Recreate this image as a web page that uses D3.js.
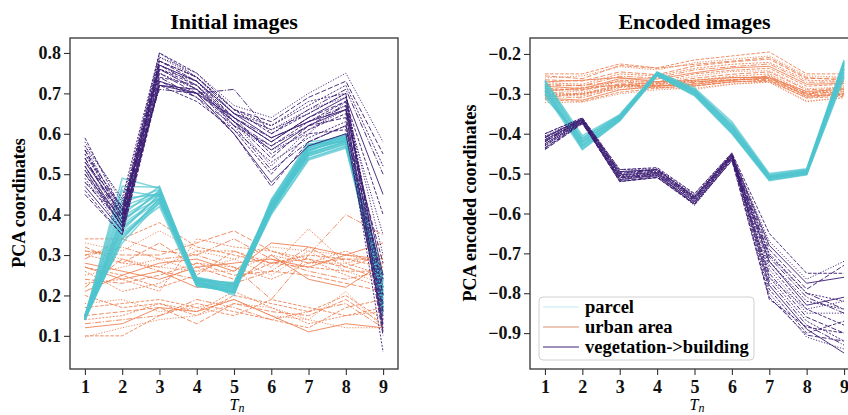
<!DOCTYPE html>
<html>
<head>
<meta charset="utf-8">
<script src="https://cdn.jsdelivr.net/npm/d3@7"></script>
<style>
  html, body { margin: 0; padding: 0; background: #fff; }
  svg { display: block; }
  .tick text { font-family: "Liberation Serif", "Times New Roman", serif; font-weight: bold; font-size: 18px; fill: #111; }
  .tick line { stroke: #333; stroke-width: 1.1; }
</style>
</head>
<body>
<svg id="chart" width="848" height="415"></svg>
<script>
// Time steps and tick values
const steps = [1, 2, 3, 4, 5, 6, 7, 8, 9];
const leftYTicks = [0.1, 0.2, 0.3, 0.4, 0.5, 0.6, 0.7, 0.8];
const rightYTicks = [-0.9, -0.8, -0.7, -0.6, -0.5, -0.4, -0.3, -0.2];
const classNames = ["parcel", "urban area", "vegetation->building"];

// Initial images: PCA coordinates per sample, T1..T9
const initialParcel = [
  [0.14, 0.34, 0.44, 0.23, 0.21, 0.41, 0.55, 0.58, 0.16],
  [0.145, 0.36, 0.45, 0.235, 0.215, 0.42, 0.56, 0.585, 0.18],
  [0.15, 0.38, 0.46, 0.24, 0.22, 0.425, 0.565, 0.59, 0.2],
  [0.14, 0.40, 0.47, 0.23, 0.205, 0.415, 0.57, 0.595, 0.22],
  [0.145, 0.42, 0.455, 0.225, 0.21, 0.405, 0.555, 0.6, 0.17],
  [0.15, 0.44, 0.45, 0.24, 0.23, 0.43, 0.575, 0.58, 0.19],
  [0.14, 0.46, 0.445, 0.232, 0.225, 0.41, 0.545, 0.575, 0.21],
  [0.145, 0.49, 0.465, 0.238, 0.2, 0.435, 0.58, 0.59, 0.15],
  [0.15, 0.33, 0.43, 0.228, 0.218, 0.42, 0.54, 0.57, 0.24],
  [0.14, 0.35, 0.42, 0.222, 0.212, 0.4, 0.535, 0.565, 0.2],
  [0.145, 0.37, 0.435, 0.245, 0.228, 0.418, 0.56, 0.588, 0.18],
  [0.15, 0.39, 0.44, 0.236, 0.232, 0.428, 0.552, 0.582, 0.23],
  [0.14, 0.41, 0.452, 0.226, 0.206, 0.412, 0.568, 0.592, 0.16],
  [0.145, 0.345, 0.438, 0.242, 0.224, 0.422, 0.548, 0.578, 0.25],
  [0.15, 0.365, 0.448, 0.23, 0.216, 0.408, 0.558, 0.586, 0.19],
  [0.14, 0.385, 0.458, 0.234, 0.21, 0.438, 0.572, 0.596, 0.21],
  [0.145, 0.43, 0.462, 0.238, 0.222, 0.426, 0.562, 0.584, 0.17],
  [0.15, 0.355, 0.428, 0.224, 0.208, 0.404, 0.538, 0.568, 0.22],
  [0.14, 0.375, 0.442, 0.244, 0.226, 0.416, 0.553, 0.58, 0.2],
  [0.145, 0.395, 0.45, 0.228, 0.214, 0.432, 0.566, 0.59, 0.18],
  [0.15, 0.47, 0.468, 0.24, 0.22, 0.419, 0.571, 0.598, 0.165],
  [0.14, 0.34, 0.433, 0.233, 0.219, 0.411, 0.546, 0.574, 0.235]
];
const initialUrban = [
  [0.34, 0.34, 0.38, 0.32, 0.30, 0.28, 0.30, 0.29, 0.27],
  [0.33, 0.31, 0.36, 0.31, 0.29, 0.32, 0.31, 0.30, 0.28],
  [0.31, 0.30, 0.30, 0.33, 0.36, 0.31, 0.28, 0.29, 0.29],
  [0.30, 0.28, 0.27, 0.31, 0.31, 0.27, 0.365, 0.28, 0.25],
  [0.29, 0.34, 0.31, 0.30, 0.27, 0.19, 0.30, 0.40, 0.35],
  [0.28, 0.26, 0.24, 0.27, 0.28, 0.29, 0.27, 0.30, 0.33],
  [0.27, 0.25, 0.22, 0.25, 0.31, 0.28, 0.27, 0.26, 0.26],
  [0.25, 0.27, 0.29, 0.26, 0.26, 0.30, 0.28, 0.28, 0.30],
  [0.24, 0.23, 0.25, 0.28, 0.25, 0.26, 0.25, 0.23, 0.21],
  [0.23, 0.24, 0.21, 0.34, 0.32, 0.31, 0.29, 0.25, 0.22],
  [0.22, 0.29, 0.26, 0.24, 0.23, 0.26, 0.32, 0.27, 0.24],
  [0.21, 0.25, 0.28, 0.29, 0.26, 0.33, 0.32, 0.30, 0.29],
  [0.20, 0.17, 0.18, 0.15, 0.20, 0.18, 0.16, 0.20, 0.14],
  [0.18, 0.19, 0.16, 0.17, 0.19, 0.15, 0.14, 0.21, 0.12],
  [0.15, 0.16, 0.17, 0.13, 0.18, 0.16, 0.15, 0.19, 0.13],
  [0.14, 0.15, 0.18, 0.16, 0.21, 0.17, 0.13, 0.15, 0.16],
  [0.13, 0.14, 0.15, 0.19, 0.17, 0.14, 0.16, 0.18, 0.12],
  [0.12, 0.13, 0.17, 0.16, 0.19, 0.15, 0.11, 0.13, 0.12],
  [0.10, 0.10, 0.15, 0.18, 0.16, 0.14, 0.12, 0.17, 0.19],
  [0.097, 0.12, 0.14, 0.15, 0.18, 0.17, 0.14, 0.12, 0.12],
  [0.32, 0.28, 0.33, 0.27, 0.24, 0.28, 0.29, 0.27, 0.30],
  [0.26, 0.21, 0.23, 0.28, 0.27, 0.24, 0.28, 0.31, 0.27],
  [0.30, 0.32, 0.29, 0.30, 0.34, 0.29, 0.26, 0.24, 0.26],
  [0.27, 0.24, 0.26, 0.22, 0.23, 0.30, 0.24, 0.22, 0.28],
  [0.17, 0.18, 0.19, 0.17, 0.15, 0.19, 0.17, 0.15, 0.17],
  [0.31, 0.29, 0.27, 0.26, 0.29, 0.25, 0.31, 0.26, 0.23]
];
const initialVegBuilding = [
  [0.59, 0.41, 0.80, 0.75, 0.66, 0.60, 0.65, 0.70, 0.12],
  [0.57, 0.40, 0.79, 0.74, 0.65, 0.61, 0.66, 0.69, 0.15],
  [0.56, 0.39, 0.78, 0.73, 0.64, 0.58, 0.64, 0.68, 0.20],
  [0.55, 0.42, 0.78, 0.74, 0.66, 0.62, 0.68, 0.70, 0.18],
  [0.54, 0.38, 0.77, 0.72, 0.63, 0.57, 0.62, 0.67, 0.22],
  [0.53, 0.40, 0.77, 0.73, 0.65, 0.59, 0.63, 0.66, 0.25],
  [0.52, 0.37, 0.76, 0.72, 0.64, 0.55, 0.61, 0.65, 0.14],
  [0.51, 0.41, 0.76, 0.71, 0.62, 0.56, 0.60, 0.68, 0.30],
  [0.50, 0.39, 0.75, 0.70, 0.63, 0.54, 0.62, 0.64, 0.10],
  [0.49, 0.36, 0.75, 0.71, 0.61, 0.53, 0.59, 0.63, 0.06],
  [0.48, 0.38, 0.74, 0.69, 0.62, 0.51, 0.58, 0.62, 0.16],
  [0.47, 0.36, 0.73, 0.70, 0.60, 0.48, 0.57, 0.60, 0.13],
  [0.46, 0.35, 0.72, 0.68, 0.61, 0.50, 0.60, 0.61, 0.24],
  [0.58, 0.43, 0.79, 0.75, 0.67, 0.64, 0.70, 0.75, 0.58],
  [0.56, 0.41, 0.78, 0.74, 0.66, 0.63, 0.69, 0.73, 0.55],
  [0.55, 0.40, 0.76, 0.73, 0.65, 0.62, 0.67, 0.72, 0.52],
  [0.53, 0.42, 0.71, 0.70, 0.71, 0.60, 0.66, 0.71, 0.50],
  [0.52, 0.38, 0.72, 0.70, 0.64, 0.58, 0.64, 0.69, 0.45],
  [0.50, 0.37, 0.74, 0.72, 0.62, 0.57, 0.63, 0.68, 0.40],
  [0.48, 0.40, 0.77, 0.73, 0.63, 0.52, 0.61, 0.66, 0.35],
  [0.45, 0.35, 0.73, 0.69, 0.60, 0.47, 0.58, 0.62, 0.28],
  [0.57, 0.44, 0.80, 0.74, 0.65, 0.61, 0.65, 0.70, 0.20],
  [0.54, 0.39, 0.76, 0.71, 0.64, 0.59, 0.63, 0.67, 0.17],
  [0.51, 0.37, 0.72, 0.71, 0.63, 0.56, 0.62, 0.66, 0.11]
];

// Encoded images: PCA encoded coordinates per sample, T1..T9
const encodedParcel = [
  [-0.265, -0.405, -0.352, -0.245, -0.285, -0.37, -0.50, -0.488, -0.215],
  [-0.27, -0.41, -0.355, -0.247, -0.29, -0.375, -0.503, -0.49, -0.22],
  [-0.275, -0.415, -0.357, -0.248, -0.292, -0.38, -0.505, -0.492, -0.225],
  [-0.28, -0.42, -0.36, -0.25, -0.295, -0.385, -0.508, -0.495, -0.23],
  [-0.285, -0.425, -0.362, -0.252, -0.298, -0.39, -0.51, -0.497, -0.235],
  [-0.29, -0.43, -0.364, -0.253, -0.3, -0.395, -0.512, -0.5, -0.24],
  [-0.295, -0.435, -0.366, -0.254, -0.302, -0.398, -0.515, -0.502, -0.25],
  [-0.30, -0.44, -0.368, -0.255, -0.305, -0.40, -0.518, -0.503, -0.26],
  [-0.31, -0.412, -0.354, -0.246, -0.288, -0.378, -0.506, -0.494, -0.218],
  [-0.278, -0.428, -0.363, -0.249, -0.296, -0.388, -0.511, -0.498, -0.228],
  [-0.268, -0.418, -0.359, -0.251, -0.293, -0.382, -0.507, -0.491, -0.222],
  [-0.292, -0.432, -0.361, -0.247, -0.299, -0.392, -0.513, -0.496, -0.238],
  [-0.302, -0.422, -0.356, -0.252, -0.29, -0.386, -0.509, -0.499, -0.245],
  [-0.283, -0.438, -0.367, -0.254, -0.303, -0.396, -0.516, -0.501, -0.255]
];
const encodedUrban = [
  [-0.25, -0.25, -0.225, -0.235, -0.215, -0.205, -0.195, -0.25, -0.25],
  [-0.26, -0.255, -0.232, -0.24, -0.222, -0.213, -0.205, -0.255, -0.258],
  [-0.265, -0.268, -0.245, -0.252, -0.23, -0.22, -0.213, -0.262, -0.26],
  [-0.272, -0.276, -0.25, -0.255, -0.236, -0.226, -0.221, -0.266, -0.268],
  [-0.276, -0.28, -0.256, -0.26, -0.24, -0.232, -0.225, -0.271, -0.27],
  [-0.281, -0.287, -0.262, -0.263, -0.247, -0.235, -0.231, -0.276, -0.274],
  [-0.286, -0.291, -0.266, -0.27, -0.25, -0.241, -0.236, -0.281, -0.276],
  [-0.29, -0.296, -0.268, -0.272, -0.256, -0.244, -0.242, -0.287, -0.283],
  [-0.296, -0.3, -0.276, -0.274, -0.261, -0.251, -0.245, -0.29, -0.286],
  [-0.301, -0.306, -0.281, -0.276, -0.266, -0.256, -0.25, -0.296, -0.292],
  [-0.306, -0.31, -0.284, -0.279, -0.271, -0.26, -0.256, -0.3, -0.295],
  [-0.311, -0.316, -0.29, -0.281, -0.276, -0.266, -0.26, -0.306, -0.3],
  [-0.315, -0.319, -0.296, -0.286, -0.28, -0.27, -0.266, -0.311, -0.306],
  [-0.322, -0.321, -0.3, -0.29, -0.286, -0.275, -0.27, -0.318, -0.31],
  [-0.29, -0.29, -0.275, -0.281, -0.274, -0.264, -0.264, -0.302, -0.299],
  [-0.299, -0.302, -0.281, -0.285, -0.279, -0.27, -0.266, -0.305, -0.304],
  [-0.28, -0.279, -0.27, -0.276, -0.27, -0.266, -0.261, -0.298, -0.295],
  [-0.27, -0.266, -0.259, -0.27, -0.266, -0.259, -0.259, -0.294, -0.289],
  [-0.294, -0.284, -0.279, -0.279, -0.281, -0.27, -0.269, -0.309, -0.301],
  [-0.309, -0.298, -0.289, -0.284, -0.289, -0.276, -0.271, -0.32, -0.309],
  [-0.255, -0.262, -0.229, -0.236, -0.226, -0.218, -0.209, -0.259, -0.266],
  [-0.304, -0.301, -0.279, -0.27, -0.269, -0.265, -0.254, -0.301, -0.28]
];
const encodedVegBuilding = [
  [-0.40, -0.36, -0.49, -0.485, -0.55, -0.448, -0.65, -0.75, -0.75],
  [-0.405, -0.362, -0.495, -0.49, -0.555, -0.45, -0.67, -0.765, -0.72],
  [-0.41, -0.364, -0.50, -0.49, -0.56, -0.452, -0.69, -0.79, -0.73],
  [-0.415, -0.366, -0.505, -0.495, -0.56, -0.455, -0.70, -0.80, -0.82],
  [-0.42, -0.368, -0.51, -0.50, -0.565, -0.458, -0.71, -0.81, -0.85],
  [-0.425, -0.37, -0.515, -0.505, -0.57, -0.46, -0.72, -0.83, -0.81],
  [-0.43, -0.372, -0.52, -0.51, -0.575, -0.463, -0.73, -0.84, -0.88],
  [-0.435, -0.374, -0.515, -0.50, -0.58, -0.466, -0.74, -0.85, -0.85],
  [-0.44, -0.375, -0.51, -0.505, -0.575, -0.468, -0.75, -0.86, -0.90],
  [-0.40, -0.361, -0.49, -0.488, -0.552, -0.449, -0.76, -0.87, -0.92],
  [-0.41, -0.363, -0.497, -0.492, -0.558, -0.451, -0.77, -0.88, -0.93],
  [-0.415, -0.365, -0.503, -0.497, -0.562, -0.454, -0.78, -0.89, -0.95],
  [-0.42, -0.367, -0.508, -0.50, -0.566, -0.457, -0.79, -0.90, -0.87],
  [-0.43, -0.37, -0.512, -0.503, -0.571, -0.46, -0.80, -0.91, -0.94],
  [-0.435, -0.372, -0.518, -0.508, -0.576, -0.462, -0.81, -0.905, -0.92],
  [-0.425, -0.369, -0.506, -0.498, -0.568, -0.459, -0.72, -0.82, -0.84],
  [-0.418, -0.366, -0.50, -0.494, -0.563, -0.456, -0.705, -0.80, -0.84],
  [-0.408, -0.363, -0.495, -0.49, -0.557, -0.452, -0.68, -0.775, -0.76],
  [-0.438, -0.373, -0.52, -0.51, -0.578, -0.467, -0.815, -0.885, -0.90],
  [-0.428, -0.371, -0.51, -0.502, -0.572, -0.461, -0.76, -0.84, -0.82]
];

// Styling
const colors = { parcel: "#4ec5cf", urban: "#ec7d4c", veg: "#3b1c72" };
const dashStyles = ["3.5,1.6", "1.2,1.6", "5,2", "2,1.5", "6,1.6,1.2,1.6", null];
const serif = '"Liberation Serif", "Times New Roman", serif';

const svg = d3.select("#chart");

function drawPanel(cfg) {
  const x = d3.scaleLinear().domain([0.6, 9.4]).range([cfg.left, cfg.right]);
  const y = d3.scaleLinear().domain(cfg.yDomain).range([369, 38]);
  const g = svg.append("g");

  const line = d3.line()
    .x((d, i) => x(steps[i]))
    .y(d => y(d));

  const groups = [
    { data: cfg.urban, color: colors.urban, width: 1, opacity: 0.85, dashed: true },
    { data: cfg.parcel, color: colors.parcel, width: 1.5, opacity: 0.7, dashed: false },
    { data: cfg.veg, color: colors.veg, width: 1, opacity: 0.9, dashed: true }
  ];
  groups.forEach(grp => {
    g.append("g").selectAll("path")
      .data(grp.data)
      .join("path")
      .attr("d", line)
      .attr("fill", "none")
      .attr("stroke", grp.color)
      .attr("stroke-width", grp.width)
      .attr("stroke-opacity", grp.opacity)
      .attr("stroke-dasharray", (d, i) => grp.dashed ? dashStyles[i % dashStyles.length] : null);
  });

  // axes
  g.append("g")
    .attr("transform", "translate(0,369)")
    .call(d3.axisBottom(x).tickValues(steps).tickFormat(d3.format("d")).tickSize(6).tickPadding(5))
    .call(a => a.select(".domain").remove());
  g.append("g")
    .attr("transform", `translate(${cfg.left},0)`)
    .call(d3.axisLeft(y).tickValues(cfg.yTicks).tickFormat(d => d3.format(".1f")(d).replace("-", "\u2212")).tickSize(6).tickPadding(3))
    .call(a => a.select(".domain").remove());

  // frame
  g.append("rect")
    .attr("x", cfg.left).attr("y", 38)
    .attr("width", cfg.right - cfg.left).attr("height", 331)
    .attr("fill", "none").attr("stroke", "#333").attr("stroke-width", 1.3);

  // title
  g.append("text")
    .attr("x", (cfg.left + cfg.right) / 2).attr("y", 29)
    .attr("text-anchor", "middle")
    .style("font-family", serif).style("font-weight", "bold").style("font-size", "22px")
    .text(cfg.title);

  // y label
  g.append("text")
    .attr("transform", `translate(${cfg.yLabelX},203) rotate(-90)`)
    .attr("text-anchor", "middle")
    .style("font-family", serif).style("font-weight", "bold").style("font-size", "18px")
    .text(cfg.yLabel);

  // x label T_n
  const xl = g.append("text")
    .attr("x", cfg.xLabelX).attr("y", 410)
    .attr("text-anchor", "middle")
    .style("font-family", serif).style("font-style", "italic").style("font-size", "16px");
  xl.append("tspan").text("T");
  xl.append("tspan").attr("dy", 2).style("font-size", "12px").text("n");

  return { x, y };
}

drawPanel({
  left: 70, right: 398, yDomain: [0.018, 0.837], yTicks: leftYTicks,
  parcel: initialParcel, urban: initialUrban, veg: initialVegBuilding,
  title: "Initial images", yLabel: "PCA coordinates", yLabelX: 25, xLabelX: 237
});
drawPanel({
  left: 530, right: 859, yDomain: [-0.99, -0.16], yTicks: rightYTicks,
  parcel: encodedParcel, urban: encodedUrban, veg: encodedVegBuilding,
  title: "Encoded images", yLabel: "PCA encoded coordinates", yLabelX: 476, xLabelX: 697
});

// legend
const legend = svg.append("g");
legend.append("rect")
  .attr("x", 539).attr("y", 297).attr("width", 215).attr("height", 63).attr("rx", 4)
  .attr("fill", "#fff").attr("fill-opacity", 0.85)
  .attr("stroke", "#d0d0d0").attr("stroke-width", 1);
const legendColors = ["#c2ecf0", "#d99272", "#3f2377"];
classNames.forEach((name, i) => {
  const cy = 307 + i * 20;
  legend.append("line")
    .attr("x1", 543).attr("x2", 579).attr("y1", cy).attr("y2", cy)
    .attr("stroke", legendColors[i]).attr("stroke-width", 1.2);
  legend.append("text")
    .attr("x", 585).attr("y", cy + 6)
    .style("font-family", serif).style("font-weight", "bold").style("font-size", "18.5px")
    .text(name);
});
</script>
</body>
</html>
